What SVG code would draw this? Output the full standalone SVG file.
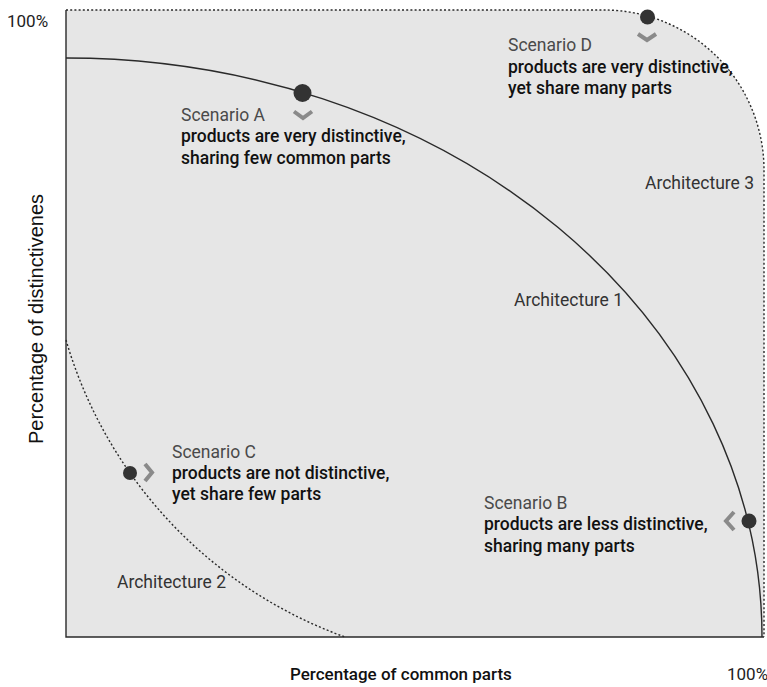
<svg xmlns="http://www.w3.org/2000/svg" width="767" height="687" viewBox="0 0 767 687">
  <style>
    .title { font-family: Roboto, "Liberation Sans", sans-serif; font-size: 17.5px; fill: #4a4a4a; }
    .desc { font-family: Roboto, "Liberation Sans", sans-serif; font-size: 17.5px; font-weight: 500; fill: #111; }
    .arch { font-family: Roboto, "Liberation Sans", sans-serif; font-size: 17.5px; fill: #333; }
    .axis { font-family: Roboto, "Liberation Sans", sans-serif; font-size: 17px; font-weight: 500; fill: #111; }
    .pct { font-family: Roboto, "Liberation Sans", sans-serif; font-size: 17px; fill: #222; }
    .ylabel { font-family: "Liberation Sans", Arial, sans-serif; font-size: 20px; fill: #111; }
    .solid { fill: none; stroke: #2a2a2a; stroke-width: 1.4; }
    .dotted { fill: none; stroke: #2a2a2a; stroke-width: 1.4; stroke-dasharray: 2 2.2; }
    .dot { fill: #333; }
    .chev { fill: none; stroke: #8a8a8a; stroke-width: 4; stroke-linejoin: miter; stroke-linecap: butt; }
  </style>

  <!-- plot area, bounded by the architecture 3 envelope -->
  <path id="plot-area" d="M66,10 H604 A160,160 0 0 1 764,170 V637 H66 Z" fill="#e6e6e6"/>

  <g id="connectors">
    <!-- axes -->
    <path class="solid" d="M66,10 V637 H764"/>
    <!-- architecture 3 envelope -->
    <path class="dotted" d="M66,10 H604 A160,160 0 0 1 764,170 V637"/>
    <!-- architecture 1 -->
    <path class="solid" d="M66,58 A696,579 0 0 1 762,637"/>
    <!-- architecture 2 -->
    <path class="dotted" d="M66,340 A449.5,449.5 0 0 0 345,637"/>
  </g>

  <g id="scenario-a">
    <circle class="dot" cx="302.5" cy="93" r="9"/>
    <polyline class="chev" points="294,111.5 303,118 312,111.5"/>
    <text class="title" x="181" y="121">Scenario A</text>
    <text class="desc" x="181" y="142">products are very distinctive,</text>
    <text class="desc" x="181" y="164">sharing few common parts</text>
  </g>

  <g id="scenario-d">
    <circle class="dot" cx="647.5" cy="17" r="7.5"/>
    <polyline class="chev" points="638,34 647,40 656,34"/>
    <text class="title" x="508" y="51">Scenario D</text>
    <text class="desc" x="508" y="73">products are very distinctive,</text>
    <text class="desc" x="508" y="94">yet share many parts</text>
  </g>

  <g id="scenario-c">
    <circle class="dot" cx="130" cy="473" r="7"/>
    <polyline class="chev" points="145,464 152,472.5 145,481"/>
    <text class="title" x="172" y="458">Scenario C</text>
    <text class="desc" x="172" y="479">products are not distinctive,</text>
    <text class="desc" x="172" y="500">yet share few parts</text>
  </g>

  <g id="scenario-b">
    <circle class="dot" cx="749" cy="521" r="7.5"/>
    <polyline class="chev" points="734,512 726,521 734,530"/>
    <text class="title" x="484" y="509">Scenario B</text>
    <text class="desc" x="484" y="530">products are less distinctive,</text>
    <text class="desc" x="484" y="552">sharing many parts</text>
  </g>

  <g id="labels">
    <text class="arch" x="645" y="189">Architecture 3</text>
    <text class="arch" x="514" y="306">Architecture 1</text>
    <text class="arch" x="117" y="588">Architecture 2</text>
    <text class="pct" x="7" y="27">100%</text>
    <text class="pct" x="727" y="680">100%</text>
    <text class="axis" x="290" y="680">Percentage of common parts</text>
    <text class="ylabel" transform="translate(43,319) rotate(-90)" text-anchor="middle">Percentage of distinctivenes</text>
  </g>
</svg>
